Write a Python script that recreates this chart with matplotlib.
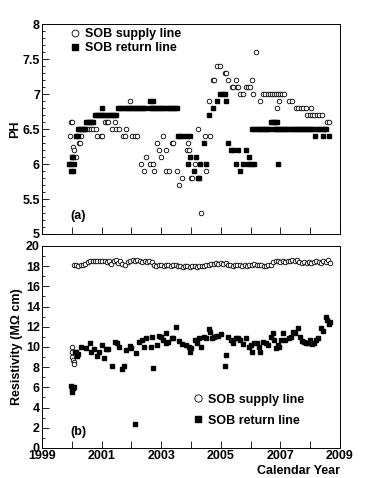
import matplotlib
matplotlib.use("Agg")
import matplotlib.pyplot as plt
from matplotlib.ticker import MultipleLocator, FixedLocator

plt.rcParams['font.family'] = ['Liberation Sans', 'DejaVu Sans']
plt.rcParams['font.weight'] = 'bold'

# ─── DATA: panel (a) pH ──────────────────────────────────────
ph_supply_year = [1999.95, 1999.97, 2000.00, 2000.04, 2000.06, 2000.15, 2000.23, 2000.28,
                  2000.32, 2000.48, 2000.59, 2000.66, 2000.72, 2000.80, 2000.83, 2000.97,
                  2001.01, 2001.12, 2001.18, 2001.23, 2001.35, 2001.44, 2001.47, 2001.60,
                  2001.73, 2001.77, 2001.83, 2001.96, 2002.01, 2002.12, 2002.18, 2002.31,
                  2002.43, 2002.49, 2002.64, 2002.71, 2002.75, 2002.87, 2002.94, 2002.99,
                  2003.06, 2003.15, 2003.16, 2003.26, 2003.36, 2003.41, 2003.52, 2003.59,
                  2003.70, 2003.85, 2003.91, 2003.94, 2003.99, 2004.05, 2004.12, 2004.25,
                  2004.34, 2004.47, 2004.50, 2004.64, 2004.62, 2004.75, 2004.77, 2004.88,
                  2004.97, 2005.14, 2005.17, 2005.25, 2005.38, 2005.42, 2005.52, 2005.55,
                  2005.58, 2005.64, 2005.76, 2005.85, 2005.91, 2005.98, 2006.05, 2006.09,
                  2006.18, 2006.32, 2006.43, 2006.50, 2006.57, 2006.64, 2006.71, 2006.78,
                  2006.85, 2006.92, 2006.99, 2007.06, 2007.13, 2006.87, 2006.94, 2007.28,
                  2007.39, 2007.51, 2007.60, 2007.68, 2007.76, 2007.85, 2008.03, 2007.90,
                  2007.98, 2008.06, 2008.14, 2008.22, 2008.30, 2008.38, 2008.55, 2008.64]
ph_supply = [6.4, 6.6, 6.6, 6.25, 6.2, 6.1, 6.3, 6.3,
             6.4, 6.5, 6.5, 6.5, 6.5, 6.5, 6.4, 6.4,
             6.4, 6.6, 6.6, 6.6, 6.5, 6.6, 6.5, 6.5,
             6.4, 6.4, 6.5, 6.9, 6.4, 6.4, 6.4, 6.0,
             5.9, 6.1, 6.0, 6.0, 5.9, 6.3, 6.2, 6.1,
             6.4, 5.9, 6.2, 5.9, 6.3, 6.3, 5.9, 5.7,
             5.8, 6.2, 6.3, 6.2, 5.8, 5.8, 6.0, 6.5,
             5.3, 6.4, 5.9, 6.4, 6.9, 7.2, 7.2, 7.4,
             7.4, 7.3, 7.3, 7.2, 7.1, 7.1, 7.2, 7.1,
             7.1, 7.0, 7.0, 7.1, 7.1, 7.1, 7.2, 7.0,
             7.6, 6.9, 7.0, 7.0, 7.0, 7.0, 7.0, 7.0,
             7.0, 7.0, 7.0, 7.0, 7.0, 6.8, 6.9, 6.9,
             6.9, 6.8, 6.8, 6.8, 6.8, 6.8, 6.8, 6.7,
             6.7, 6.7, 6.7, 6.7, 6.7, 6.7, 6.6, 6.6]

ph_return_year = [1999.91, 1999.98, 2000.06, 1999.97, 2000.03, 2000.00, 2000.05, 2000.14,
                  2000.21, 2000.22, 2000.28, 2000.34, 2000.40, 2000.44, 2000.48, 2000.54,
                  2000.60, 2000.66, 2000.72, 2000.78, 2000.85, 2000.92, 2000.99, 2001.06,
                  2001.13, 2001.20, 2001.27, 2001.34, 2001.41, 2001.48, 2001.00, 2001.56,
                  2001.63, 2001.70, 2001.77, 2001.84, 2001.91, 2001.98, 2002.05, 2002.12,
                  2002.19, 2002.26, 2002.33, 2002.40, 2002.47, 2002.62, 2002.74, 2002.62,
                  2002.69, 2002.76, 2002.83, 2002.90, 2002.97, 2003.04, 2003.11, 2003.18,
                  2003.25, 2003.32, 2003.39, 2003.46, 2003.53, 2003.55, 2003.63, 2003.72,
                  2003.87, 2003.97, 2003.91, 2003.98, 2004.18, 2004.11, 2004.23, 2004.28,
                  2004.31, 2004.51, 2004.44, 2004.62, 2004.74, 2004.87, 2004.97, 2005.06,
                  2005.15, 2005.17, 2005.24, 2005.34, 2005.42, 2005.59, 2005.52, 2005.66,
                  2005.76, 2005.85, 2005.96, 2005.91, 2006.00, 2006.11, 2006.06, 2006.13,
                  2006.20, 2006.27, 2006.34, 2006.41, 2006.48, 2006.55, 2006.62, 2006.67,
                  2006.75, 2006.83, 2006.90, 2006.78, 2006.85, 2006.92, 2006.99, 2007.06,
                  2007.13, 2007.20, 2007.27, 2007.34, 2007.41, 2007.48, 2007.55, 2007.62,
                  2007.69, 2007.76, 2007.83, 2007.90, 2007.97, 2008.04, 2008.11, 2006.92,
                  2008.17, 2008.22, 2008.30, 2008.38, 2008.46, 2008.53, 2008.44, 2008.64]
ph_return = [6.0, 6.0, 6.0, 5.9, 5.9, 6.1, 6.1, 6.4,
             6.4, 6.5, 6.5, 6.5, 6.5, 6.5, 6.6, 6.6,
             6.6, 6.6, 6.6, 6.7, 6.7, 6.7, 6.7, 6.7,
             6.7, 6.7, 6.7, 6.7, 6.7, 6.7, 6.8, 6.8,
             6.8, 6.8, 6.8, 6.8, 6.8, 6.8, 6.8, 6.8,
             6.8, 6.8, 6.8, 6.8, 6.8, 6.9, 6.9, 6.8,
             6.8, 6.8, 6.8, 6.8, 6.8, 6.8, 6.8, 6.8,
             6.8, 6.8, 6.8, 6.8, 6.8, 6.4, 6.4, 6.4,
             6.4, 6.4, 6.0, 6.1, 6.1, 5.9, 5.8, 5.8,
             6.0, 6.0, 6.3, 6.7, 6.8, 6.9, 7.0, 7.0,
             7.0, 6.9, 6.3, 6.2, 6.2, 6.2, 6.0, 5.9,
             6.0, 6.2, 6.1, 6.0, 6.0, 6.0, 6.5, 6.5,
             6.5, 6.5, 6.5, 6.5, 6.5, 6.5, 6.5, 6.6,
             6.6, 6.6, 6.6, 6.5, 6.5, 6.5, 6.5, 6.5,
             6.5, 6.5, 6.5, 6.5, 6.5, 6.5, 6.5, 6.5,
             6.5, 6.5, 6.5, 6.5, 6.5, 6.5, 6.5, 6.0,
             6.4, 6.5, 6.5, 6.5, 6.5, 6.5, 6.4, 6.4]

# ─── DATA: panel (b) resistivity (MOhm cm) ───────────────────
res_supply_year = [2000.00, 2000.01, 2000.02, 2000.03, 2000.06, 2000.08,
                   2000.08, 2000.15, 2000.22, 2000.30, 2000.38, 2000.45,
                   2000.55, 2000.62, 2000.70, 2000.78, 2000.86, 2000.94, 2001.02, 2001.10,
                   2001.18, 2001.26, 2001.32, 2001.40, 2001.48, 2001.55, 2001.62, 2001.70,
                   2001.78, 2001.88, 2001.96, 2002.04, 2002.12, 2002.20, 2002.28, 2002.36,
                   2002.44, 2002.52, 2002.60, 2002.68, 2002.76, 2002.84, 2002.92, 2003.00,
                   2003.08, 2003.16, 2003.24, 2003.32, 2003.40, 2003.48, 2003.56, 2003.64,
                   2003.72, 2003.80, 2003.88, 2003.96, 2004.04, 2004.12, 2004.20, 2004.28,
                   2004.36, 2004.44, 2004.52, 2004.60, 2004.68, 2004.76, 2004.84, 2004.92,
                   2005.00, 2005.08, 2005.16, 2005.24, 2005.32, 2005.40, 2005.48, 2005.56,
                   2005.64, 2005.72, 2005.80, 2005.88, 2005.96, 2006.04, 2006.12, 2006.20,
                   2006.28, 2006.36, 2006.44, 2006.52, 2006.60, 2006.68, 2006.76, 2006.84,
                   2006.92, 2007.00, 2007.08, 2007.16, 2007.24, 2007.32, 2007.40, 2007.48,
                   2007.56, 2007.64, 2007.72, 2007.80, 2007.88, 2007.96, 2008.04, 2008.12,
                   2008.20, 2008.28, 2008.36, 2008.44, 2008.52, 2008.60, 2008.66]
res_supply = [10.0, 9.55, 9.05, 8.75, 8.55, 8.3,
              18.1, 18.1, 18.0, 18.1, 18.1, 18.2,
              18.4, 18.5, 18.5, 18.5, 18.5, 18.5, 18.5, 18.5,
              18.4, 18.5, 18.2, 18.5, 18.6, 18.3, 18.5, 18.2,
              18.1, 18.4, 18.5, 18.6, 18.5, 18.6, 18.5, 18.4,
              18.5, 18.4, 18.5, 18.4, 18.1, 18.0, 18.1, 18.1,
              18.0, 18.1, 18.1, 18.0, 18.1, 18.1, 18.0, 18.0,
              17.9, 18.0, 18.0, 17.9, 18.0, 18.0, 17.9, 18.0,
              18.0, 18.0, 18.1, 18.1, 18.2, 18.2, 18.3, 18.2,
              18.3, 18.2, 18.3, 18.1, 18.1, 18.0, 18.1, 18.1,
              18.1, 18.0, 18.1, 18.0, 18.1, 18.1, 18.2, 18.1,
              18.1, 18.1, 18.0, 18.0, 18.1, 18.1, 18.4, 18.5,
              18.5, 18.4, 18.5, 18.4, 18.5, 18.5, 18.6, 18.5,
              18.6, 18.4, 18.3, 18.4, 18.3, 18.4, 18.3, 18.4,
              18.5, 18.4, 18.3, 18.5, 18.4, 18.6, 18.3]

res_return_year = [2000.00, 2000.01, 2000.04, 2000.06, 1999.98, 2000.10, 2000.15, 2000.18,
                   2000.21, 2000.30, 2000.48, 2000.60, 2000.65, 2000.76, 2000.84, 2000.92,
                   2001.00, 2001.07, 2001.14, 2001.20, 2001.35, 2001.45, 2001.53, 2001.57,
                   2001.70, 2001.76, 2001.82, 2001.95, 2002.00, 2002.12, 2002.16, 2002.27,
                   2002.35, 2002.42, 2002.48, 2002.65, 2002.68, 2002.74, 2002.85, 2002.94,
                   2003.00, 2003.07, 2003.15, 2003.16, 2003.24, 2003.36, 2003.40, 2003.50,
                   2003.59, 2003.70, 2003.83, 2003.92, 2003.96, 2004.00, 2004.12, 2004.20,
                   2004.27, 2004.34, 2004.44, 2004.50, 2004.60, 2004.64, 2004.72, 2004.76,
                   2004.83, 2004.92, 2005.00, 2005.14, 2005.17, 2005.24, 2005.33, 2005.42,
                   2005.50, 2005.58, 2005.64, 2005.75, 2005.84, 2005.93, 2006.00, 2006.05,
                   2006.12, 2006.20, 2006.27, 2006.33, 2006.40, 2006.52, 2006.60, 2006.67,
                   2006.74, 2006.78, 2006.86, 2006.92, 2006.96, 2007.02, 2007.10, 2007.17,
                   2007.28, 2007.35, 2007.42, 2007.50, 2007.60, 2007.66, 2007.73, 2007.80,
                   2007.86, 2007.92, 2008.00, 2008.07, 2008.13, 2008.20, 2008.27, 2008.35,
                   2008.42, 2008.53, 2008.58, 2008.63, 2008.66]
res_return = [5.8, 5.5, 5.9, 6.0, 6.1, 9.55, 9.5, 9.1,
              9.3, 10.0, 9.9, 10.4, 9.5, 9.8, 9.1, 9.55,
              10.2, 8.9, 9.8, 9.8, 8.1, 10.5, 10.4, 10.0,
              7.8, 8.1, 9.7, 10.1, 9.9, 2.4, 9.4, 10.5,
              10.7, 10.0, 10.9, 10.0, 11.0, 7.9, 10.2, 11.1,
              11.0, 10.7, 10.4, 11.4, 10.5, 10.9, 10.9, 12.0,
              10.6, 10.3, 10.2, 10.0, 9.5, 9.9, 10.7, 10.4,
              10.9, 10.0, 11.0, 10.9, 11.8, 11.5, 10.9, 11.0,
              11.1, 11.1, 11.3, 8.1, 9.2, 11.0, 10.7, 10.4,
              10.9, 10.9, 10.7, 10.3, 10.9, 10.0, 10.2, 9.5,
              10.4, 10.4, 10.0, 9.5, 10.5, 10.4, 10.2, 11.0,
              11.4, 10.7, 9.9, 10.2, 10.0, 10.7, 11.4, 10.7,
              10.9, 11.0, 11.5, 11.4, 11.9, 11.0, 10.6, 10.5,
              10.4, 10.4, 10.7, 10.3, 10.4, 10.7, 10.9, 11.9,
              11.6, 13.0, 12.7, 12.3, 12.5]

year_labels = [1999, 2001, 2003, 2005, 2007, 2009]
year_minor = [2000, 2002, 2004, 2006, 2008]

SUPPLY_LABEL = "SOB supply line"
RETURN_LABEL = "SOB return line"

# ─── FIGURE ──────────────────────────────────────────────────
fig = plt.figure(figsize=(3.82, 4.78), dpi=100)
ax1 = fig.add_axes([0.110, 0.5105, 0.780, 0.439])
ax2 = fig.add_axes([0.110, 0.0628, 0.780, 0.4226])

circ = dict(marker='o', linestyle='none', markersize=3.3, markerfacecolor='white',
            markeredgecolor='black', markeredgewidth=0.6)
sq = dict(marker='s', linestyle='none', markersize=3.1, color='black')

ax1.plot(ph_supply_year, ph_supply, label=SUPPLY_LABEL, **circ)
ax1.plot(ph_return_year, ph_return, label=RETURN_LABEL, **sq)
ax2.plot(res_supply_year, res_supply, label=SUPPLY_LABEL, **circ)
ax2.plot(res_return_year, res_return, label=RETURN_LABEL, **sq)

for ax in (ax1, ax2):
    ax.set_xlim(1999, 2009)
    ax.xaxis.set_major_locator(FixedLocator(year_labels))
    ax.xaxis.set_minor_locator(FixedLocator(year_minor))
    ax.tick_params(which='both', direction='in', top=False, right=False,
                   labelsize=9, width=0.6, pad=1.5)
    ax.tick_params(which='major', length=5)
    ax.tick_params(axis='x', which='minor', length=5)
    ax.tick_params(axis='y', which='minor', length=2.5)
    for s in ax.spines.values():
        s.set_linewidth(0.7)

ax1.set_ylim(5, 8)
ax1.set_yticks([5, 5.5, 6, 6.5, 7, 7.5, 8], ['5', '5.5', '6', '6.5', '7', '7.5', '8'])
ax1.yaxis.set_minor_locator(MultipleLocator(0.1))
ax1.tick_params(axis='x', labelbottom=False)
ax1.set_ylabel("PH", fontsize=9, fontweight='bold', labelpad=1)

ax2.set_ylim(0, 20)
ax2.yaxis.set_major_locator(MultipleLocator(2))
ax2.yaxis.set_minor_locator(MultipleLocator(1))
ax2.set_ylabel("Resistivity (M\u03a9 cm)", fontsize=9, fontweight='bold', labelpad=2)
ax2.text(1.0, -0.112, "Calendar Year", transform=ax2.transAxes, ha='right', va='center',
         fontsize=9, fontweight='bold')

for ax in (ax1, ax2):
    for lab in ax.get_xticklabels() + ax.get_yticklabels():
        lab.set_fontweight('bold')

ax1.text(0.095, 0.085, "(a)", transform=ax1.transAxes, fontsize=9, fontweight='bold',
         va='center')
ax2.text(0.095, 0.08, "(b)", transform=ax2.transAxes, fontsize=9, fontweight='bold',
         va='center')

ax1.legend(loc='upper left', bbox_to_anchor=(0.07, 1.015), frameon=False,
           markerscale=1.5, handlelength=0.8, handletextpad=0.4,
           labelspacing=0.15, borderaxespad=0.2,
           prop={'size': 9, 'weight': 'bold'})
ax2.legend(loc='upper left', bbox_to_anchor=(0.48, 0.305), frameon=False,
           markerscale=1.6, handlelength=0.8, handletextpad=0.4,
           labelspacing=0.7, borderaxespad=0.2,
           prop={'size': 9, 'weight': 'bold'})

fig.savefig("out.png", dpi=100)
